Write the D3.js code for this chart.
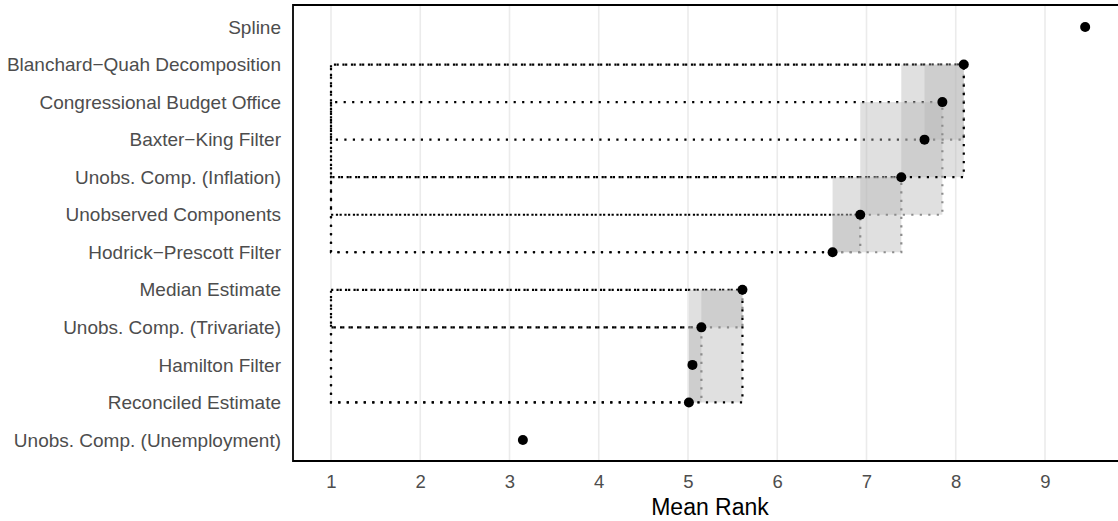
<!DOCTYPE html>
<html>
<head>
<meta charset="utf-8">
<script src="https://cdn.jsdelivr.net/npm/d3@7"></script>
<style>
  html, body { margin: 0; padding: 0; background: #fff; }
  svg text { font-family: "Liberation Sans", Arial, sans-serif; }
</style>
</head>
<body>
<svg id="chart" width="1118" height="521"></svg>
<script>
// Methods, listed from the top row to the bottom row
const methods = [
  "Spline",
  "Blanchard−Quah Decomposition",
  "Congressional Budget Office",
  "Baxter−King Filter",
  "Unobs. Comp. (Inflation)",
  "Unobserved Components",
  "Hodrick−Prescott Filter",
  "Median Estimate",
  "Unobs. Comp. (Trivariate)",
  "Hamilton Filter",
  "Reconciled Estimate",
  "Unobs. Comp. (Unemployment)"
];

// Mean rank of each method (same order as above)
const meanRanks = [9.45, 8.09, 7.85, 7.65, 7.39, 6.93, 6.62, 5.61, 5.15, 5.05, 5.01, 3.15];

// Pairs of methods whose ranks are not significantly different (lower rank first)
const primaryLinks = [
  ["Reconciled Estimate", "Median Estimate"],
  ["Unobs. Comp. (Inflation)", "Blanchard−Quah Decomposition"]
];
const secondaryLinks = [
  ["Reconciled Estimate", "Unobs. Comp. (Trivariate)"],
  ["Unobs. Comp. (Trivariate)", "Median Estimate"],
  ["Hodrick−Prescott Filter", "Unobserved Components"],
  ["Hodrick−Prescott Filter", "Unobs. Comp. (Inflation)"],
  ["Unobserved Components", "Congressional Budget Office"],
  ["Baxter−King Filter", "Blanchard−Quah Decomposition"]
];

// Axis ticks and the rank where the link brackets are anchored
const xTicks = [1, 2, 3, 4, 5, 6, 7, 8, 9];
const bracketAnchor = 1;
const xTitle = "Mean Rank";

// ---- layout ----
const panel = { left: 293, top: 5, right: 1126, bottom: 461 };

const svg = d3.select("#chart");

const x = d3.scaleLinear().domain([1, 9]).range([331, 1045]);
const y = d3.scalePoint().domain(methods).range([27, 440]);

const rank = new Map(methods.map((m, i) => [m, meanRanks[i]]));

// vertical grid
svg.append("g")
  .selectAll("line")
  .data(xTicks)
  .join("line")
  .attr("x1", d => x(d)).attr("x2", d => x(d))
  .attr("y1", panel.top).attr("y2", panel.bottom)
  .attr("stroke", "#EBEBEB")
  .attr("stroke-width", 1.6);

const allLinks = primaryLinks.map(l => ({ a: l[0], b: l[1], primary: true }))
  .concat(secondaryLinks.map(l => ({ a: l[0], b: l[1], primary: false })));

const dotted = "2.2 6.3";

// brackets back to the anchor rank on the left
svg.append("g")
  .selectAll("path")
  .data(allLinks)
  .join("path")
  .attr("d", d => {
    const p = d3.path();
    p.moveTo(x(rank.get(d.a)), y(d.a));
    p.lineTo(x(bracketAnchor), y(d.a));
    p.lineTo(x(bracketAnchor), y(d.b));
    p.lineTo(x(rank.get(d.b)), y(d.b));
    return p.toString();
  })
  .attr("fill", "none")
  .attr("stroke", "#000")
  .attr("stroke-width", 2.2)
  .attr("stroke-dasharray", dotted);

// shaded boxes spanning each linked pair
svg.append("g")
  .selectAll("rect")
  .data(allLinks)
  .join("rect")
  .attr("x", d => x(rank.get(d.a)))
  .attr("y", d => y(d.b))
  .attr("width", d => x(rank.get(d.b)) - x(rank.get(d.a)))
  .attr("height", d => y(d.a) - y(d.b))
  .attr("fill", "#b4b4b4")
  .attr("fill-opacity", 0.42);

// elbow from the lower-ranked method across and up to the higher one
svg.append("g")
  .selectAll("path")
  .data(allLinks.slice().sort((p, q) => p.primary - q.primary))
  .join("path")
  .attr("d", d => {
    const p = d3.path();
    p.moveTo(x(rank.get(d.a)), y(d.a));
    p.lineTo(x(rank.get(d.b)), y(d.a));
    p.lineTo(x(rank.get(d.b)), y(d.b));
    return p.toString();
  })
  .attr("fill", "none")
  .attr("stroke", d => d.primary ? "#000" : "#8c8c8c")
  .attr("stroke-width", 2.2)
  .attr("stroke-dasharray", dotted);

// points
svg.append("g")
  .selectAll("circle")
  .data(methods)
  .join("circle")
  .attr("cx", d => x(rank.get(d)))
  .attr("cy", d => y(d))
  .attr("r", 5)
  .attr("fill", "#000");

// panel border (left, top, bottom)
svg.append("path")
  .attr("d", `M${panel.right},${panel.top}H${panel.left}V${panel.bottom}H${panel.right}`)
  .attr("fill", "none")
  .attr("stroke", "#000")
  .attr("stroke-width", 1.8);

// x axis
const xAxis = svg.append("g")
  .attr("transform", `translate(0,${panel.bottom})`)
  .call(d3.axisBottom(x).tickValues(xTicks).tickFormat(d3.format("d")).tickSize(0).tickPadding(14));
xAxis.select(".domain").remove();
xAxis.selectAll("text")
  .attr("font-size", "18.5px")
  .attr("fill", "#4D4D4D")
  .style("font-family", "'Liberation Sans', Arial, sans-serif");

// y axis
const yAxis = svg.append("g")
  .attr("transform", `translate(${panel.left},0)`)
  .call(d3.axisLeft(y).tickSize(0).tickPadding(12));
yAxis.select(".domain").remove();
yAxis.selectAll("text")
  .attr("font-size", "19px")
  .attr("fill", "#4D4D4D")
  .style("font-family", "'Liberation Sans', Arial, sans-serif");

// axis title
svg.append("text")
  .attr("x", 710)
  .attr("y", 515)
  .attr("text-anchor", "middle")
  .attr("font-size", "23px")
  .attr("fill", "#000")
  .text(xTitle);
</script>
</body>
</html>
